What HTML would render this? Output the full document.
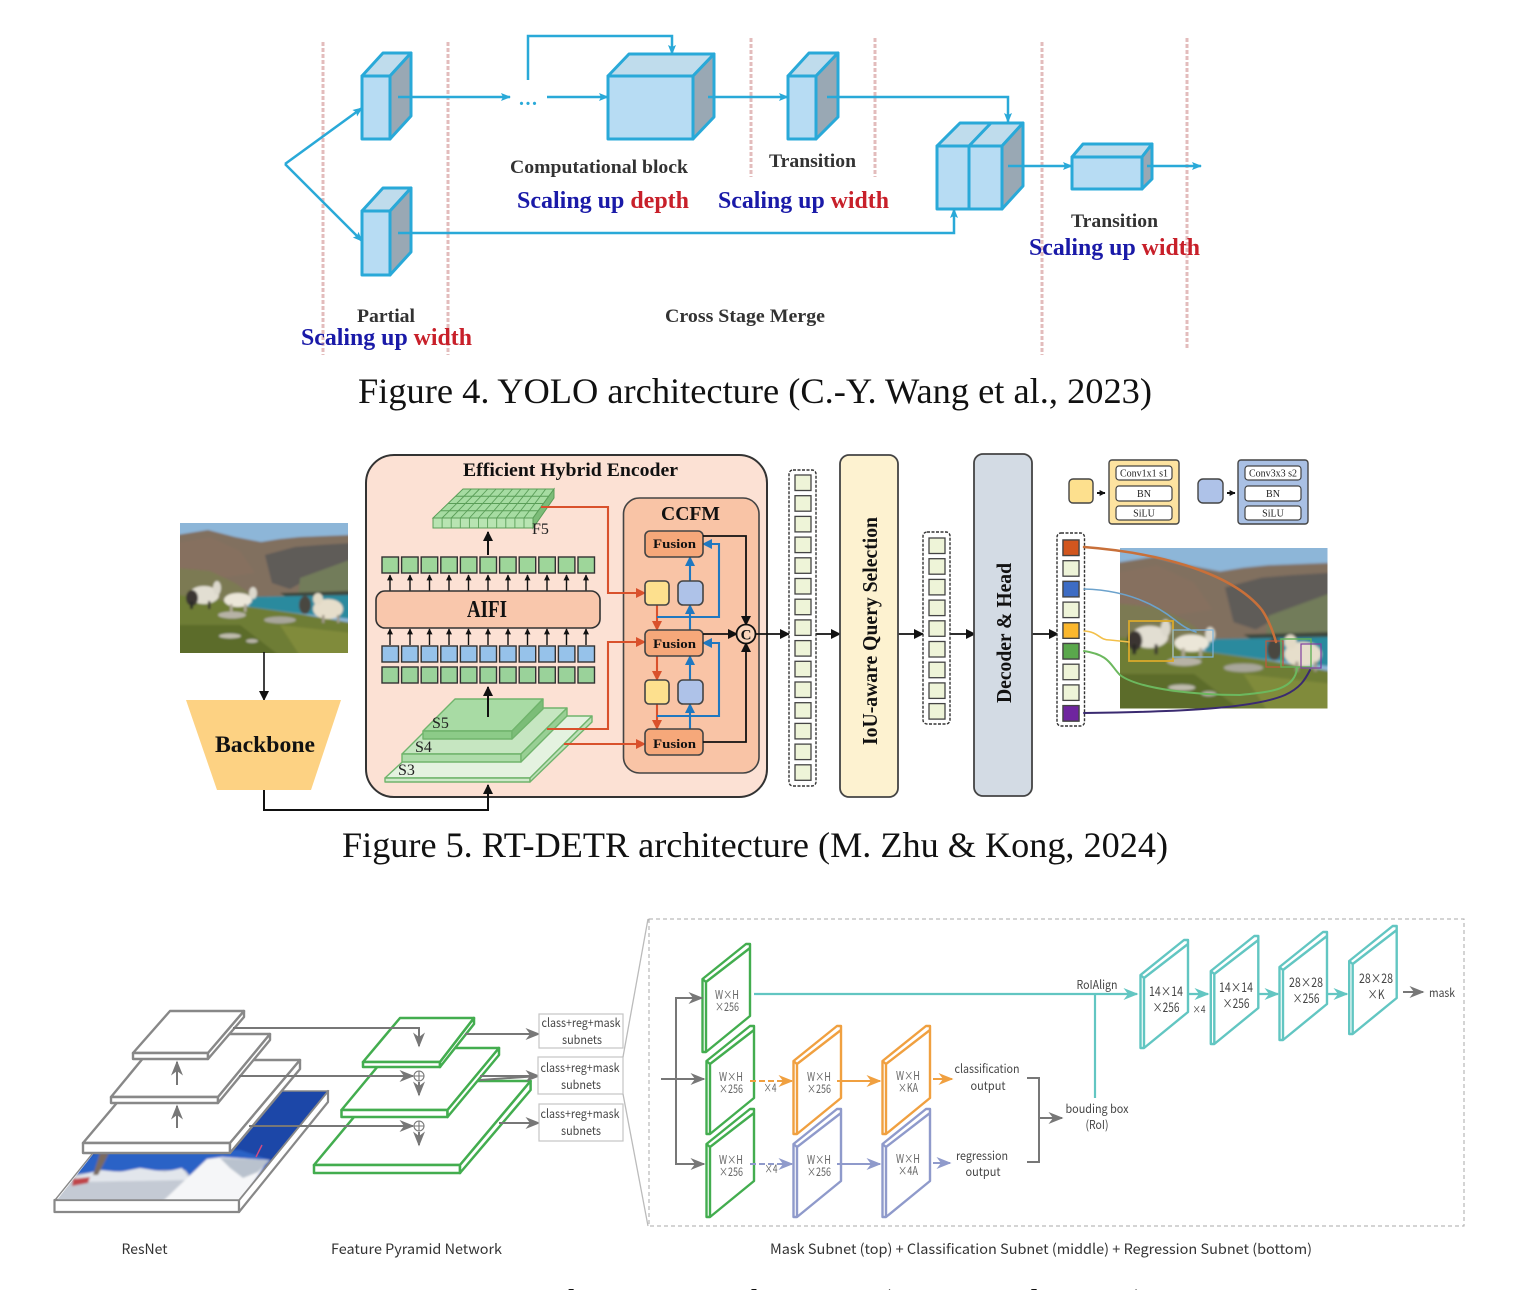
<!DOCTYPE html>
<html>
<head>
<meta charset="utf-8">
<style>
html,body{margin:0;padding:0;background:#fff;}
svg{display:block;filter:blur(0.35px);}
.sb{font-family:"Liberation Serif",serif;font-weight:bold;}
.s{font-family:"Liberation Serif",serif;}
.n{font-family:"Liberation Sans","Noto Sans CJK SC",sans-serif;}
.c{font-family:"Noto Sans CJK SC","Liberation Sans",sans-serif;}
</style>
</head>
<body>
<svg xmlns="http://www.w3.org/2000/svg" width="1520" height="1290" viewBox="0 0 1520 1290">
<defs>
<filter id="bl" x="-5%" y="-5%" width="110%" height="110%"><feGaussianBlur stdDeviation="1"/></filter>
<marker id="mB" viewBox="0 0 10 10" refX="9" refY="5" markerWidth="10" markerHeight="10" markerUnits="userSpaceOnUse" orient="auto"><path d="M0 1L10 5L0 9L2 5z" fill="#29a9d8"/></marker>
<marker id="mK" viewBox="0 0 10 10" refX="9" refY="5" markerWidth="10" markerHeight="10" markerUnits="userSpaceOnUse" orient="auto"><path d="M0 0L10 5L0 10z" fill="#111"/></marker>
<marker id="mKs" viewBox="0 0 10 10" refX="9" refY="5" markerWidth="6" markerHeight="6" markerUnits="userSpaceOnUse" orient="auto"><path d="M0 0L10 5L0 10z" fill="#111"/></marker>
<marker id="mR" viewBox="0 0 10 10" refX="9" refY="5" markerWidth="10" markerHeight="10" markerUnits="userSpaceOnUse" orient="auto"><path d="M0 0L10 5L0 10z" fill="#d9512c"/></marker>
<marker id="mU" viewBox="0 0 10 10" refX="9" refY="5" markerWidth="10" markerHeight="10" markerUnits="userSpaceOnUse" orient="auto"><path d="M0 0L10 5L0 10z" fill="#1f78c0"/></marker>
<marker id="mG" viewBox="0 0 10 10" refX="9" refY="5" markerWidth="15" markerHeight="15" markerUnits="userSpaceOnUse" orient="auto"><path d="M0 1L10 5L0 9L3 5z" fill="#777"/></marker>
<marker id="mO" viewBox="0 0 10 10" refX="9" refY="5" markerWidth="15" markerHeight="15" markerUnits="userSpaceOnUse" orient="auto"><path d="M0 1L10 5L0 9L3 5z" fill="#f0a040"/></marker>
<marker id="mP" viewBox="0 0 10 10" refX="9" refY="5" markerWidth="15" markerHeight="15" markerUnits="userSpaceOnUse" orient="auto"><path d="M0 1L10 5L0 9L3 5z" fill="#8f9acb"/></marker>
<marker id="mT" viewBox="0 0 10 10" refX="9" refY="5" markerWidth="15" markerHeight="15" markerUnits="userSpaceOnUse" orient="auto"><path d="M0 1L10 5L0 9L3 5z" fill="#62c6c2"/></marker>

<clipPath id="pc"><rect x="0" y="0" width="168" height="130"/></clipPath>
<clipPath id="snow"><polygon points="57,1200 239,1200 328,1091 143,1091"/></clipPath>

<g id="photo" clip-path="url(#pc)">
 <g filter="url(#bl)">
 <rect x="-3" y="-3" width="175" height="136" fill="#8db6d8"/>
 <polygon points="-3,12 28,7 55,14 81,19 100,16 120,14 172,12 172,80 -3,80" fill="#81705f"/>
 <polygon points="-3,20 30,14 60,28 75,50 40,55 -3,45" fill="#86705e"/>
 <polygon points="85,32 115,24 140,22 172,20 172,45 135,52 110,66 92,60" fill="#5e5c58"/>
 <polygon points="-3,45 30,48 55,60 78,76 -3,80" fill="#7c7a52"/>
 <polygon points="120,55 172,36 172,72 118,74" fill="#727b5a"/>
 <polygon points="100,70 172,68 172,74 110,76" fill="#3e463c"/>
 <polygon points="62,74 172,72 172,96 115,90 70,84" fill="#2c8a9e"/>
 <polygon points="-3,72 35,76 70,84 120,91 172,100 172,133 -3,133" fill="#6e7d35"/>
 <polygon points="-3,102 60,102 100,133 -3,133" fill="#5c6c2a"/>
 <polygon points="100,102 172,110 172,133 120,133" fill="#808b3a"/>
 <ellipse cx="52" cy="92" rx="14" ry="3.5" fill="#b7b3a6"/>
 <ellipse cx="100" cy="97" rx="16" ry="3.5" fill="#a8a69a"/>
 <ellipse cx="50" cy="113" rx="11" ry="2.5" fill="#c0bcae"/>
 <ellipse cx="72" cy="118" rx="6" ry="2" fill="#b7b3a6"/>
 <ellipse cx="24" cy="72" rx="15" ry="9" fill="#e2ded2"/>
 <ellipse cx="12" cy="75" rx="6" ry="8" fill="#3a3530"/>
 <ellipse cx="37" cy="65" rx="4" ry="7" fill="#dcd8cc"/>
 <rect x="10" y="78" width="3" height="8" fill="#2c2a26"/><rect x="28" y="78" width="2.5" height="8" fill="#3a3530"/>
 <ellipse cx="58" cy="77" rx="14" ry="7" fill="#ebe6d8"/>
 <ellipse cx="73" cy="70" rx="4" ry="6" fill="#dcd8cc"/>
 <rect x="50" y="81" width="2.5" height="8" fill="#b0a898"/><rect x="64" y="81" width="2.5" height="8" fill="#b0a898"/>
 <ellipse cx="125" cy="82" rx="6" ry="9" fill="#4a4640"/>
 <ellipse cx="148" cy="86" rx="15" ry="10" fill="#e6decb"/>
 <ellipse cx="138" cy="76" rx="5" ry="6" fill="#e2dac6"/>
 <rect x="142" y="92" width="2.5" height="8" fill="#a09888"/><rect x="157" y="92" width="2.5" height="8" fill="#a09888"/>
 </g>
</g>

<g id="row"><rect x="382" y="0" width="16.5" height="16"/><rect x="401.6" y="0" width="16.5" height="16"/><rect x="421.2" y="0" width="16.5" height="16"/><rect x="440.8" y="0" width="16.5" height="16"/><rect x="460.4" y="0" width="16.5" height="16"/><rect x="480" y="0" width="16.5" height="16"/><rect x="499.6" y="0" width="16.5" height="16"/><rect x="519.2" y="0" width="16.5" height="16"/><rect x="538.8" y="0" width="16.5" height="16"/><rect x="558.4" y="0" width="16.5" height="16"/><rect x="578" y="0" width="16.5" height="16"/></g>
<g id="aRow" stroke="#111" stroke-width="1.4"><line x1="390" y1="16" x2="390" y2="0" marker-end="url(#mKs)"/><line x1="410" y1="16" x2="410" y2="0" marker-end="url(#mKs)"/><line x1="429.5" y1="16" x2="429.5" y2="0" marker-end="url(#mKs)"/><line x1="449" y1="16" x2="449" y2="0" marker-end="url(#mKs)"/><line x1="468.5" y1="16" x2="468.5" y2="0" marker-end="url(#mKs)"/><line x1="488" y1="16" x2="488" y2="0" marker-end="url(#mKs)"/><line x1="508" y1="16" x2="508" y2="0" marker-end="url(#mKs)"/><line x1="527.5" y1="16" x2="527.5" y2="0" marker-end="url(#mKs)"/><line x1="547" y1="16" x2="547" y2="0" marker-end="url(#mKs)"/><line x1="566.5" y1="16" x2="566.5" y2="0" marker-end="url(#mKs)"/><line x1="586" y1="16" x2="586" y2="0" marker-end="url(#mKs)"/></g>

<g id="cr"><rect width="16" height="15.5" fill="#eef4d8" stroke="#444" stroke-width="1.3"/></g>

<g id="pl" fill="none" stroke="currentColor" stroke-width="2.4" stroke-linejoin="round">
 <path d="M-3.5 -1L40 -36H44V36L0 72H-3.5Z"/>
 <path d="M0 72V2L44 -32"/>
 <path d="M-3.5 -1L0 2"/>
</g>
</defs>

<rect width="1520" height="1290" fill="#fff"/>

<!-- ===== Figure 4 ===== -->
<g stroke="#e3bcbc" stroke-width="3" stroke-dasharray="4 2" fill="none">
 <line x1="323" y1="42" x2="323" y2="355"/>
 <line x1="448" y1="42" x2="448" y2="355"/>
 <line x1="751" y1="38" x2="751" y2="177"/>
 <line x1="875" y1="38" x2="875" y2="177"/>
 <line x1="1042" y1="42" x2="1042" y2="355"/>
 <line x1="1187" y1="38" x2="1187" y2="350"/>
</g>
<g stroke="#29a9d8" stroke-width="2.5" fill="none">
 <line x1="285" y1="164" x2="362" y2="108" marker-end="url(#mB)"/>
 <line x1="285" y1="164" x2="362" y2="241" marker-end="url(#mB)"/>
</g>
<g stroke="#29a9d8" stroke-width="3" stroke-linejoin="round">
 <rect x="362" y="76" width="28" height="63" fill="#b7dcf3"/><polygon points="362,76 383,53 411,53 390,76" fill="#bfdcec"/><polygon points="390,76 411,53 411,116 390,139" fill="#99a8b4"/>
 <rect x="362" y="211" width="28" height="64" fill="#b7dcf3"/><polygon points="362,211 383,188 411,188 390,211" fill="#bfdcec"/><polygon points="390,211 411,188 411,252 390,275" fill="#99a8b4"/>
 <rect x="608" y="76" width="85" height="63" fill="#b7dcf3"/><polygon points="608,76 629,54 714,54 693,76" fill="#bfdcec"/><polygon points="693,76 714,54 714,117 693,139" fill="#99a8b4"/>
 <rect x="788" y="76" width="28" height="63" fill="#b7dcf3"/><polygon points="788,76 809,53 838,53 816,76" fill="#bfdcec"/><polygon points="816,76 838,53 838,117 816,139" fill="#99a8b4"/>
 <rect x="937" y="146" width="65" height="63" fill="#b7dcf3"/><polygon points="937,146 960,123 1023,123 1002,146" fill="#bfdcec"/><polygon points="1002,146 1023,123 1023,186 1002,209" fill="#99a8b4"/>
 <path d="M969 209V146L991 123" fill="none"/>
 <rect x="1072" y="157" width="70" height="32" fill="#b7dcf3"/><polygon points="1072,157 1083,144 1152,144 1142,157" fill="#bfdcec"/><polygon points="1142,157 1152,144 1152,179 1142,189" fill="#99a8b4"/>
</g>
<g stroke="#29a9d8" stroke-width="2.5" fill="none">
 <line x1="398" y1="97" x2="510" y2="97" marker-end="url(#mB)"/>
 <line x1="547" y1="97" x2="608" y2="97" marker-end="url(#mB)"/>
 <path d="M528 80V36H672V54" marker-end="url(#mB)"/>
 <line x1="708" y1="97" x2="788" y2="97" marker-end="url(#mB)"/>
 <path d="M827 97H1008V122" marker-end="url(#mB)"/>
 <path d="M398 233H954V209" marker-end="url(#mB)"/>
 <line x1="1008" y1="166" x2="1072" y2="166" marker-end="url(#mB)"/>
 <line x1="1147" y1="166" x2="1201" y2="166" marker-end="url(#mB)"/>
</g>
<text x="519" y="105" class="sb" font-size="20" letter-spacing="1.5" fill="#29a9d8">...</text>

<g class="sb">
 <text x="510" y="173" font-size="19" fill="#333" textLength="178" lengthAdjust="spacingAndGlyphs">Computational block</text>
 <text x="769" y="167" font-size="19" fill="#333" textLength="87" lengthAdjust="spacingAndGlyphs">Transition</text>
 <text x="357" y="322" font-size="19" fill="#333" textLength="58" lengthAdjust="spacingAndGlyphs">Partial</text>
 <text x="665" y="322" font-size="19" fill="#333" textLength="160" lengthAdjust="spacingAndGlyphs">Cross Stage Merge</text>
 <text x="1071" y="227" font-size="19" fill="#333" textLength="87" lengthAdjust="spacingAndGlyphs">Transition</text>
 <text x="517" y="208" font-size="24" fill="#1a1aa8" textLength="172" lengthAdjust="spacingAndGlyphs">Scaling up <tspan fill="#c8202a">depth</tspan></text>
 <text x="718" y="208" font-size="24" fill="#1a1aa8" textLength="171" lengthAdjust="spacingAndGlyphs">Scaling up <tspan fill="#c8202a">width</tspan></text>
 <text x="301" y="345" font-size="24" fill="#1a1aa8" textLength="171" lengthAdjust="spacingAndGlyphs">Scaling up <tspan fill="#c8202a">width</tspan></text>
 <text x="1029" y="255" font-size="24" fill="#1a1aa8" textLength="171" lengthAdjust="spacingAndGlyphs">Scaling up <tspan fill="#c8202a">width</tspan></text>
</g>
<text x="358" y="403" class="s" font-size="36" fill="#111" textLength="794" lengthAdjust="spacingAndGlyphs">Figure 4. YOLO architecture (C.-Y. Wang et al., 2023)</text>

<!-- ===== Figure 5 ===== -->
<use href="#photo" transform="translate(180,523)"/>
<line x1="264" y1="652" x2="264" y2="700" stroke="#111" stroke-width="1.6" marker-end="url(#mK)"/>
<polygon points="186,700 341,700 311,790 217,790" fill="#fdd283"/>
<text x="215" y="752" class="sb" font-size="23" fill="#111" textLength="100" lengthAdjust="spacingAndGlyphs">Backbone</text>

<rect x="366" y="455" width="401" height="342" rx="28" fill="#fce1d4" stroke="#333" stroke-width="2"/>
<path d="M264 790V810H488V785" fill="none" stroke="#111" stroke-width="2" marker-end="url(#mK)"/>
<text x="463" y="476" class="sb" font-size="19" fill="#111" textLength="215" lengthAdjust="spacingAndGlyphs">Efficient Hybrid Encoder</text>

<!-- F5 grid -->
<polygon points="463,489 554,489 533,518 433,518" fill="#a6dca2" stroke="#5a9e58" stroke-width="1"/>
<polygon points="433,518 533,518 533,528 433,528" fill="#b8e4b2" stroke="#5a9e58" stroke-width="1"/>
<polygon points="533,518 554,489 554,498 533,528" fill="#7cbc78" stroke="#5a9e58" stroke-width="1"/>
<g stroke="#5a9e58" stroke-width="0.9">
 <line x1="442.1" y1="518" x2="471.3" y2="489"/><line x1="451.2" y1="518" x2="479.5" y2="489"/><line x1="460.3" y1="518" x2="487.8" y2="489"/><line x1="469.4" y1="518" x2="496.1" y2="489"/><line x1="478.5" y1="518" x2="504.4" y2="489"/><line x1="487.6" y1="518" x2="512.6" y2="489"/><line x1="496.7" y1="518" x2="520.9" y2="489"/><line x1="505.8" y1="518" x2="529.2" y2="489"/><line x1="514.9" y1="518" x2="537.5" y2="489"/><line x1="524" y1="518" x2="545.7" y2="489"/>
 <line x1="440.5" y1="510.75" x2="538.25" y2="510.75"/><line x1="448" y1="503.5" x2="543.5" y2="503.5"/><line x1="455.5" y1="496.25" x2="548.75" y2="496.25"/>
 <line x1="442.1" y1="518" x2="442.1" y2="528"/><line x1="451.2" y1="518" x2="451.2" y2="528"/><line x1="460.3" y1="518" x2="460.3" y2="528"/><line x1="469.4" y1="518" x2="469.4" y2="528"/><line x1="478.5" y1="518" x2="478.5" y2="528"/><line x1="487.6" y1="518" x2="487.6" y2="528"/><line x1="496.7" y1="518" x2="496.7" y2="528"/><line x1="505.8" y1="518" x2="505.8" y2="528"/><line x1="514.9" y1="518" x2="514.9" y2="528"/><line x1="524" y1="518" x2="524" y2="528"/>
</g>
<text x="532" y="534" class="s" font-size="16" fill="#222">F5</text>
<line x1="488" y1="555" x2="488" y2="532" stroke="#111" stroke-width="2" marker-end="url(#mK)"/>

<use href="#row" y="557" fill="#9ed69a" stroke="#333" stroke-width="1.4"/>
<use href="#aRow" y="575"/>
<rect x="376" y="591" width="224" height="37" rx="9" fill="#f9c7ac" stroke="#333" stroke-width="1.6"/>
<text x="467" y="617" class="sb" font-size="24" fill="#111" textLength="40" lengthAdjust="spacingAndGlyphs">AIFI</text>
<use href="#aRow" y="629"/>
<use href="#row" y="646" fill="#96c2ea" stroke="#333" stroke-width="1.4"/>
<use href="#row" y="667" fill="#9ad29a" stroke="#333" stroke-width="1.4"/>

<!-- S layers -->
<g stroke="#70b46c" stroke-width="1.4" stroke-linejoin="round">
 <polygon points="385,778 530,778 592,716 452,716" fill="#e4f2e0"/>
 <polygon points="385,778 530,778 530,782 385,782" fill="#cfe9ca"/>
 <polygon points="530,778 592,716 592,722 530,782" fill="#bfe0ba"/>
 <polygon points="402,754 521,754 567,708 448,708" fill="#c6e6c1"/>
 <polygon points="402,754 521,754 521,762 402,762" fill="#aedcaa"/>
 <polygon points="521,754 567,708 567,716 521,762" fill="#98cf94"/>
 <polygon points="423,731 512,731 543,699 455,699" fill="#a8dba4"/>
 <polygon points="423,731 512,731 512,739 423,739" fill="#8ccb88"/>
 <polygon points="512,731 543,699 543,709 512,739" fill="#7cbd78"/>
</g>
<text x="432" y="728" class="s" font-size="16" fill="#222">S5</text>
<text x="415" y="752" class="s" font-size="16" fill="#222">S4</text>
<text x="398" y="775" class="s" font-size="16" fill="#222">S3</text>
<line x1="488" y1="717" x2="488" y2="687" stroke="#111" stroke-width="2" marker-end="url(#mK)"/>

<!-- CCFM -->
<rect x="623.5" y="498" width="135.5" height="275" rx="16" fill="#f9c4a6" stroke="#444" stroke-width="1.6"/>
<text x="661" y="520" class="sb" font-size="20" fill="#111" textLength="59" lengthAdjust="spacingAndGlyphs">CCFM</text>
<g stroke="#d9512c" stroke-width="2.1" fill="none">
 <path d="M541 507H608V593H645" marker-end="url(#mR)"/>
 <path d="M547 729H608V642H645" marker-end="url(#mR)"/>
 <line x1="564" y1="744" x2="645" y2="744" marker-end="url(#mR)"/>
 <line x1="657" y1="605" x2="657" y2="630" marker-end="url(#mR)"/>
 <line x1="657" y1="656" x2="657" y2="680" marker-end="url(#mR)"/>
 <line x1="657" y1="704" x2="657" y2="729" marker-end="url(#mR)"/>
</g>
<g stroke="#1f78c0" stroke-width="2.1" fill="none">
 <path d="M657 617H719V544H703" marker-end="url(#mU)"/>
 <path d="M657 716H719V643H703" marker-end="url(#mU)"/>
 <line x1="690" y1="630" x2="690" y2="605" marker-end="url(#mU)"/>
 <line x1="690" y1="581" x2="690" y2="557" marker-end="url(#mU)"/>
 <line x1="690" y1="729" x2="690" y2="704" marker-end="url(#mU)"/>
 <line x1="690" y1="680" x2="690" y2="656" marker-end="url(#mU)"/>
</g>
<g stroke="#444" stroke-width="1.6">
 <rect x="645" y="531" width="58" height="26" rx="5" fill="#f6a87a"/>
 <rect x="645" y="630" width="58" height="26" rx="5" fill="#f6a87a"/>
 <rect x="645" y="729" width="58" height="26" rx="5" fill="#f6a87a"/>
 <rect x="645" y="581" width="24" height="24" rx="4" fill="#fde08e"/>
 <rect x="678" y="581" width="25" height="24" rx="5" fill="#aec2e8"/>
 <rect x="645" y="680" width="24" height="24" rx="4" fill="#fde08e"/>
 <rect x="678" y="680" width="25" height="24" rx="5" fill="#aec2e8"/>
</g>
<g class="sb" font-size="13" fill="#111">
 <text x="653" y="548" textLength="43" lengthAdjust="spacingAndGlyphs">Fusion</text>
 <text x="653" y="648" textLength="43" lengthAdjust="spacingAndGlyphs">Fusion</text>
 <text x="653" y="748" textLength="43" lengthAdjust="spacingAndGlyphs">Fusion</text>
</g>
<g stroke="#111" stroke-width="1.8" fill="none">
 <path d="M703 536H746V625" marker-end="url(#mK)"/>
 <path d="M703 742H746V643" marker-end="url(#mK)"/>
 <line x1="703" y1="634" x2="737" y2="634" marker-end="url(#mK)"/>
</g>
<circle cx="746" cy="634" r="9.5" fill="#f9d4bb" stroke="#111" stroke-width="1.8"/>
<text x="746" y="639.5" text-anchor="middle" class="sb" font-size="15" fill="#111">C</text>
<g stroke="#111" stroke-width="1.8">
 <line x1="755" y1="634" x2="789" y2="634" marker-end="url(#mK)"/>
 <line x1="816" y1="634" x2="840" y2="634" marker-end="url(#mK)"/>
 <line x1="898" y1="634" x2="923" y2="634" marker-end="url(#mK)"/>
 <line x1="950" y1="634" x2="975" y2="634" marker-end="url(#mK)"/>
 <line x1="1032" y1="634" x2="1058" y2="634" marker-end="url(#mK)"/>
</g>

<!-- columns -->
<rect x="789" y="470" width="27" height="316" rx="4" fill="#fff" stroke="#333" stroke-width="1.4" stroke-dasharray="3 1.5"/>
<use href="#cr" x="795" y="475"/><use href="#cr" x="795" y="495.7"/><use href="#cr" x="795" y="516.4"/><use href="#cr" x="795" y="537.1"/><use href="#cr" x="795" y="557.8"/><use href="#cr" x="795" y="578.5"/><use href="#cr" x="795" y="599.2"/><use href="#cr" x="795" y="619.9"/><use href="#cr" x="795" y="640.6"/><use href="#cr" x="795" y="661.3"/><use href="#cr" x="795" y="682"/><use href="#cr" x="795" y="702.7"/><use href="#cr" x="795" y="723.4"/><use href="#cr" x="795" y="744.1"/><use href="#cr" x="795" y="764.8"/>

<rect x="840" y="455" width="58" height="342" rx="9" fill="#fdf2d0" stroke="#444" stroke-width="1.8"/>
<text transform="translate(877,745) rotate(-90)" class="sb" font-size="21" fill="#111" textLength="228" lengthAdjust="spacingAndGlyphs">IoU-aware Query Selection</text>

<rect x="923" y="532" width="27" height="192" rx="4" fill="#fff" stroke="#333" stroke-width="1.4" stroke-dasharray="3 1.5"/>
<use href="#cr" x="929" y="538"/><use href="#cr" x="929" y="558.7"/><use href="#cr" x="929" y="579.4"/><use href="#cr" x="929" y="600.1"/><use href="#cr" x="929" y="620.8"/><use href="#cr" x="929" y="641.5"/><use href="#cr" x="929" y="662.2"/><use href="#cr" x="929" y="682.9"/><use href="#cr" x="929" y="703.6"/>

<rect x="974" y="454" width="58" height="342" rx="9" fill="#d3dbe4" stroke="#444" stroke-width="1.8"/>
<text transform="translate(1011,703) rotate(-90)" class="sb" font-size="21" fill="#111" textLength="140" lengthAdjust="spacingAndGlyphs">Decoder &amp; Head</text>

<!-- legend -->
<rect x="1069" y="479" width="24" height="24" rx="4" fill="#fde08e" stroke="#444" stroke-width="1.4"/>
<line x1="1097" y1="493" x2="1105" y2="493" stroke="#111" stroke-width="2" marker-end="url(#mKs)"/>
<rect x="1109" y="460" width="70" height="64" rx="3" fill="#fde3a0" stroke="#444" stroke-width="1.4"/>
<g fill="#fff" stroke="#444" stroke-width="1.2">
 <rect x="1116" y="466" width="56" height="14" rx="3"/><rect x="1116" y="486" width="56" height="15" rx="3"/><rect x="1116" y="506" width="56" height="14" rx="3"/>
</g>
<g class="s" font-size="10" fill="#222" text-anchor="middle">
 <text x="1144" y="476.5">Conv1x1 s1</text><text x="1144" y="497">BN</text><text x="1144" y="516.5">SiLU</text>
</g>
<rect x="1198" y="479" width="25" height="24" rx="5" fill="#aec2e8" stroke="#444" stroke-width="1.4"/>
<line x1="1227" y1="493" x2="1235" y2="493" stroke="#111" stroke-width="2" marker-end="url(#mKs)"/>
<rect x="1238" y="460" width="70" height="64" rx="3" fill="#a9c0e4" stroke="#444" stroke-width="1.4"/>
<g fill="#fff" stroke="#444" stroke-width="1.2">
 <rect x="1245" y="466" width="56" height="14" rx="3"/><rect x="1245" y="486" width="56" height="15" rx="3"/><rect x="1245" y="506" width="56" height="14" rx="3"/>
</g>
<g class="s" font-size="10" fill="#222" text-anchor="middle">
 <text x="1273" y="476.5">Conv3x3 s2</text><text x="1273" y="497">BN</text><text x="1273" y="516.5">SiLU</text>
</g>

<!-- photo 2 -->
<use href="#photo" transform="translate(1120,548) scale(1.235)"/>
<g fill="none">
 <rect x="1129" y="621" width="44" height="40" stroke="#d9a92c" stroke-width="1.8"/>
 <rect x="1173" y="630" width="40" height="27" stroke="#7fb4da" stroke-width="1.2"/>
 <rect x="1266" y="641" width="17" height="26" stroke="#c0583c" stroke-width="1.2"/>
 <rect x="1281" y="639" width="30" height="28" stroke="#62b058" stroke-width="1.4"/>
 <rect x="1301" y="644" width="20" height="24" stroke="#8040a0" stroke-width="1.2"/>
</g>
<rect x="1057" y="533" width="27.5" height="193" rx="4" fill="#fff" stroke="#333" stroke-width="1.4" stroke-dasharray="3 1.5"/>
<use href="#cr" x="1063" y="540"/><use href="#cr" x="1063" y="560.7"/><use href="#cr" x="1063" y="581.4"/><use href="#cr" x="1063" y="602.1"/><use href="#cr" x="1063" y="622.8"/><use href="#cr" x="1063" y="643.5"/><use href="#cr" x="1063" y="664.2"/><use href="#cr" x="1063" y="684.9"/><use href="#cr" x="1063" y="705.6"/>
<g stroke="#444" stroke-width="1.3">
 <rect x="1063" y="540" width="16" height="15.5" fill="#d2561e"/>
 <rect x="1063" y="581.4" width="16" height="15.5" fill="#3d6cc4"/>
 <rect x="1063" y="622.8" width="16" height="15.5" fill="#fbb72c"/>
 <rect x="1063" y="643.5" width="16" height="15.5" fill="#5aa84c"/>
 <rect x="1063" y="705.6" width="16" height="15.5" fill="#6f259f"/>
</g>
<g fill="none" stroke-linecap="round">
 <path d="M1084 547C1150 552 1230 570 1262 610C1270 622 1274 635 1276 642" stroke="#c8703a" stroke-width="2.5"/>
 <path d="M1084 589C1120 590 1150 600 1175 620C1185 628 1190 630 1196 632" stroke="#6ca2cc" stroke-width="1.6"/>
 <path d="M1084 631C1100 632 1098 640 1110 640L1129 642" stroke="#f3c04a" stroke-width="1.6"/>
 <path d="M1084 651C1110 655 1110 665 1120 675C1140 690 1200 695 1240 695C1270 692 1295 690 1297 668" stroke="#6cb85e" stroke-width="2"/>
 <path d="M1084 713C1160 712 1250 710 1285 695C1300 688 1305 680 1310 670" stroke="#3a2a70" stroke-width="2"/>
</g>
<text x="342" y="857" class="s" font-size="36" fill="#111" textLength="826" lengthAdjust="spacingAndGlyphs">Figure 5. RT-DETR architecture (M. Zhu &amp; Kong, 2024)</text>

<!-- ===== Figure 6 ===== -->
<!-- plate with image -->
<g stroke="#888" stroke-width="2.2" stroke-linejoin="round">
 <polygon points="54.5,1200 239,1200 239,1212 54.5,1212" fill="#fff"/>
 <polygon points="239,1200 328,1091 328,1102 239,1212" fill="#fff"/>
</g>
<g clip-path="url(#snow)">
 <g filter="url(#bl)">
 <rect x="50" y="1088" width="282" height="115" fill="#1c46a8"/>
 <polygon points="60,1180 100,1150 240,1150 270,1160 240,1200 60,1200" fill="#2a62c6"/>
 <polygon points="50,1204 73,1175 95,1172 185,1170 190,1176 168,1204" fill="#c4cad4"/>
 <polygon points="75,1177 100,1170 120,1172 140,1168 165,1172 182,1168 190,1180 80,1182" fill="#e2e6ec"/>
 <polygon points="160,1204 183,1182 207,1159 222,1157 268,1160 240,1204" fill="#f5f6f8"/>
 <polygon points="220,1158 270,1160 258,1172 243,1178 230,1168" fill="#b9c2ce"/>
 <polygon points="100,1153 109,1153 98,1175 93,1175" fill="#7a6a60"/>
 <polygon points="73,1179 90,1177 88,1183 72,1186" fill="#c0444a"/>
 </g>
 <line x1="256" y1="1157" x2="262" y2="1145" stroke="#d04a80" stroke-width="1.5"/>
</g>
<polygon points="55,1200 239,1200 328,1091 143,1091" fill="none" stroke="#888" stroke-width="1.4"/>

<g stroke="#888" stroke-width="2.4" stroke-linejoin="round" fill="#fff">
 <polygon points="83,1143 230,1143 300,1060 153,1060"/>
 <polygon points="83,1143 230,1143 230,1153 83,1153"/>
 <polygon points="230,1143 300,1060 300,1069 230,1153"/>
 <polygon points="111,1097 218,1097 270,1034 163,1034"/>
 <polygon points="111,1097 218,1097 218,1103 111,1103"/>
 <polygon points="218,1097 270,1034 270,1040 218,1103"/>
 <polygon points="133,1053 208,1053 244,1011 170,1011"/>
 <polygon points="133,1053 208,1053 208,1059 133,1059"/>
 <polygon points="208,1053 244,1011 244,1017 208,1059"/>
</g>
<g stroke="#43ad4f" stroke-width="2.5" stroke-linejoin="round" fill="#fff">
 <polygon points="314,1165 460,1165 530.6,1081 384,1081"/>
 <polygon points="314,1165 460,1165 460,1173 314,1173"/>
 <polygon points="460,1165 530.6,1081 530.6,1090 460,1173"/>
 <polygon points="341.5,1110 447.5,1110 499,1048 393,1048"/>
 <polygon points="341.5,1110 447.5,1110 447.5,1117 341.5,1117"/>
 <polygon points="447.5,1110 499,1048 499,1055 447.5,1117"/>
 <polygon points="363,1062 440,1062 474,1018 400,1018"/>
 <polygon points="363,1062 440,1062 440,1067 363,1067"/>
 <polygon points="440,1062 474,1018 474,1024 440,1067"/>
</g>
<g stroke="#777" stroke-width="2" fill="none">
 <line x1="177" y1="1085" x2="177" y2="1062" marker-end="url(#mG)"/>
 <line x1="177" y1="1128" x2="177" y2="1106" marker-end="url(#mG)"/>
 <path d="M233 1028H419V1046" marker-end="url(#mG)"/>
 <line x1="239" y1="1076" x2="413" y2="1076" marker-end="url(#mG)"/>
 <line x1="249" y1="1126" x2="413" y2="1126" marker-end="url(#mG)"/>
 <line x1="419" y1="1082" x2="419" y2="1095" marker-end="url(#mG)"/>
 <line x1="419" y1="1132" x2="419" y2="1145" marker-end="url(#mG)"/>
 <line x1="465" y1="1034" x2="539" y2="1034" marker-end="url(#mG)"/>
 <line x1="480" y1="1076" x2="539" y2="1076" marker-end="url(#mG)"/>
 <line x1="480" y1="1080" x2="539" y2="1076"/>
 <line x1="499" y1="1123" x2="539" y2="1123" marker-end="url(#mG)"/>
</g>
<g stroke="#777" stroke-width="1.1" fill="#fff">
 <circle cx="419" cy="1076" r="5"/><path d="M414 1076H424M419 1071V1081" fill="none"/>
 <circle cx="419" cy="1126" r="5"/><path d="M414 1126H424M419 1121V1131" fill="none"/>
</g>
<g fill="#fff" stroke="#c4c4c4" stroke-width="1.2">
 <rect x="539" y="1014" width="84" height="34"/>
 <rect x="538" y="1057" width="85" height="37"/>
 <rect x="539" y="1104" width="84" height="37"/>
</g>
<g class="c" font-size="12" fill="#444" text-anchor="middle">
 <text x="581" y="1027" textLength="79" lengthAdjust="spacingAndGlyphs">class+reg+mask</text><text x="582" y="1044" textLength="40" lengthAdjust="spacingAndGlyphs">subnets</text>
 <text x="580" y="1072" textLength="79" lengthAdjust="spacingAndGlyphs">class+reg+mask</text><text x="581" y="1089" textLength="40" lengthAdjust="spacingAndGlyphs">subnets</text>
 <text x="580" y="1118" textLength="79" lengthAdjust="spacingAndGlyphs">class+reg+mask</text><text x="581" y="1135" textLength="40" lengthAdjust="spacingAndGlyphs">subnets</text>
</g>
<path d="M623 1057L648 919M623 1094L648 1226" stroke="#bbb" stroke-width="1.3" fill="none"/>
<rect x="649" y="919" width="815" height="307" fill="none" stroke="#aaa" stroke-width="1" stroke-dasharray="4 3"/>

<g fill="none">
 <use href="#pl" x="706" y="980" color="#43ad4f"/>
 <use href="#pl" x="710" y="1062" color="#43ad4f"/>
 <use href="#pl" x="710" y="1145" color="#43ad4f"/>
 <use href="#pl" x="797" y="1062" color="#f0a040"/>
 <use href="#pl" x="886" y="1062" color="#f0a040"/>
 <use href="#pl" x="797" y="1145" color="#8f9acb"/>
 <use href="#pl" x="886" y="1145" color="#8f9acb"/>
 <use href="#pl" x="1144" y="976" color="#62c6c2"/>
 <use href="#pl" x="1214.3" y="972" color="#62c6c2"/>
 <use href="#pl" x="1283" y="968" color="#62c6c2"/>
 <use href="#pl" x="1352.7" y="962" color="#62c6c2"/>
</g>
<g stroke="#777" stroke-width="2" fill="none">
 <line x1="661" y1="1079" x2="704" y2="1079" marker-end="url(#mG)"/>
 <path d="M702 998H676V1164H704" />
 <line x1="676" y1="998" x2="702" y2="998" marker-end="url(#mG)"/>
 <line x1="676" y1="1164" x2="704" y2="1164" marker-end="url(#mG)"/>
 <path d="M1027 1078H1039V1162H1027"/>
 <line x1="1039" y1="1118" x2="1062" y2="1118" marker-end="url(#mG)"/>
 <line x1="1403" y1="992" x2="1423" y2="992" marker-end="url(#mG)"/>
</g>
<g stroke="#f0a040" stroke-width="2" fill="none">
 <line x1="750" y1="1081" x2="792" y2="1081" stroke-dasharray="6 3" marker-end="url(#mO)"/>
 <line x1="837" y1="1081" x2="880" y2="1081" marker-end="url(#mO)"/>
 <line x1="933" y1="1079" x2="952" y2="1079" marker-end="url(#mO)"/>
</g>
<g stroke="#8f9acb" stroke-width="2" fill="none">
 <line x1="750" y1="1164" x2="792" y2="1164" stroke-dasharray="6 3" marker-end="url(#mP)"/>
 <line x1="837" y1="1164" x2="880" y2="1164" marker-end="url(#mP)"/>
 <line x1="933" y1="1163" x2="950" y2="1163" marker-end="url(#mP)"/>
</g>
<g stroke="#62c6c2" stroke-width="2.2" fill="none">
 <line x1="754" y1="994" x2="1137" y2="994" marker-end="url(#mT)"/>
 <line x1="1095" y1="994" x2="1095" y2="1098"/>
 <line x1="1188" y1="994" x2="1208" y2="994" marker-end="url(#mT)"/>
 <line x1="1258" y1="994" x2="1278" y2="994" marker-end="url(#mT)"/>
 <line x1="1327" y1="994" x2="1347" y2="994" marker-end="url(#mT)"/>
</g>

<g class="c" font-size="12" fill="#666" text-anchor="middle">
 <text x="727" y="999" textLength="24" lengthAdjust="spacingAndGlyphs">W×H</text><text x="727" y="1011" textLength="24" lengthAdjust="spacingAndGlyphs">×256</text>
 <text x="731" y="1081" textLength="24" lengthAdjust="spacingAndGlyphs">W×H</text><text x="731" y="1093" textLength="24" lengthAdjust="spacingAndGlyphs">×256</text>
 <text x="731" y="1164" textLength="24" lengthAdjust="spacingAndGlyphs">W×H</text><text x="731" y="1176" textLength="24" lengthAdjust="spacingAndGlyphs">×256</text>
 <text x="819" y="1081" textLength="24" lengthAdjust="spacingAndGlyphs">W×H</text><text x="819" y="1093" textLength="24" lengthAdjust="spacingAndGlyphs">×256</text>
 <text x="908" y="1080" textLength="24" lengthAdjust="spacingAndGlyphs">W×H</text><text x="908" y="1092" textLength="20" lengthAdjust="spacingAndGlyphs">×KA</text>
 <text x="819" y="1164" textLength="24" lengthAdjust="spacingAndGlyphs">W×H</text><text x="819" y="1176" textLength="24" lengthAdjust="spacingAndGlyphs">×256</text>
 <text x="908" y="1163" textLength="24" lengthAdjust="spacingAndGlyphs">W×H</text><text x="908" y="1175" textLength="20" lengthAdjust="spacingAndGlyphs">×4A</text>
 <text x="770" y="1092" textLength="13" lengthAdjust="spacingAndGlyphs">×4</text><text x="771" y="1173" textLength="13" lengthAdjust="spacingAndGlyphs">×4</text>
</g>
<g class="c" font-size="12" fill="#444" text-anchor="middle">
 <text x="987" y="1073" textLength="65" lengthAdjust="spacingAndGlyphs">classification</text><text x="988" y="1090" textLength="35" lengthAdjust="spacingAndGlyphs">output</text>
 <text x="982" y="1160" textLength="52" lengthAdjust="spacingAndGlyphs">regression</text><text x="983" y="1176" textLength="35" lengthAdjust="spacingAndGlyphs">output</text>
 <text x="1097" y="1113" textLength="63" lengthAdjust="spacingAndGlyphs">bouding box</text><text x="1097" y="1129" textLength="23" lengthAdjust="spacingAndGlyphs">(RoI)</text>
 <text x="1097" y="989" textLength="41" lengthAdjust="spacingAndGlyphs">RoIAlign</text>
 <text x="1199" y="1013" font-size="10" textLength="13" lengthAdjust="spacingAndGlyphs">×4</text>
 <text x="1442" y="997" textLength="26" lengthAdjust="spacingAndGlyphs">mask</text>
 <text x="1166" y="996" font-size="13" textLength="34" lengthAdjust="spacingAndGlyphs">14×14</text><text x="1166" y="1012" font-size="13" textLength="27" lengthAdjust="spacingAndGlyphs">×256</text>
 <text x="1236" y="992" font-size="13" textLength="34" lengthAdjust="spacingAndGlyphs">14×14</text><text x="1236" y="1008" font-size="13" textLength="27" lengthAdjust="spacingAndGlyphs">×256</text>
 <text x="1306" y="987" font-size="13" textLength="34" lengthAdjust="spacingAndGlyphs">28×28</text><text x="1306" y="1003" font-size="13" textLength="27" lengthAdjust="spacingAndGlyphs">×256</text>
 <text x="1376" y="983" font-size="13" textLength="34" lengthAdjust="spacingAndGlyphs">28×28</text><text x="1376" y="999" font-size="13" textLength="17" lengthAdjust="spacingAndGlyphs">×K</text>
</g>
<g class="c" font-size="14" fill="#333">
 <text x="121.5" y="1254" textLength="46" lengthAdjust="spacingAndGlyphs">ResNet</text>
 <text x="331" y="1254" textLength="171" lengthAdjust="spacingAndGlyphs">Feature Pyramid Network</text>
 <text x="770" y="1254" textLength="542" lengthAdjust="spacingAndGlyphs">Mask Subnet (top) + Classification Subnet (middle) + Regression Subnet (bottom)</text>
</g>
<text x="376" y="1314" class="s" font-size="36" fill="#111" textLength="770" lengthAdjust="spacingAndGlyphs">Figure 6. Mask R-CNN architecture (K. He et al., 2017)</text>
</svg>
</body>
</html>
